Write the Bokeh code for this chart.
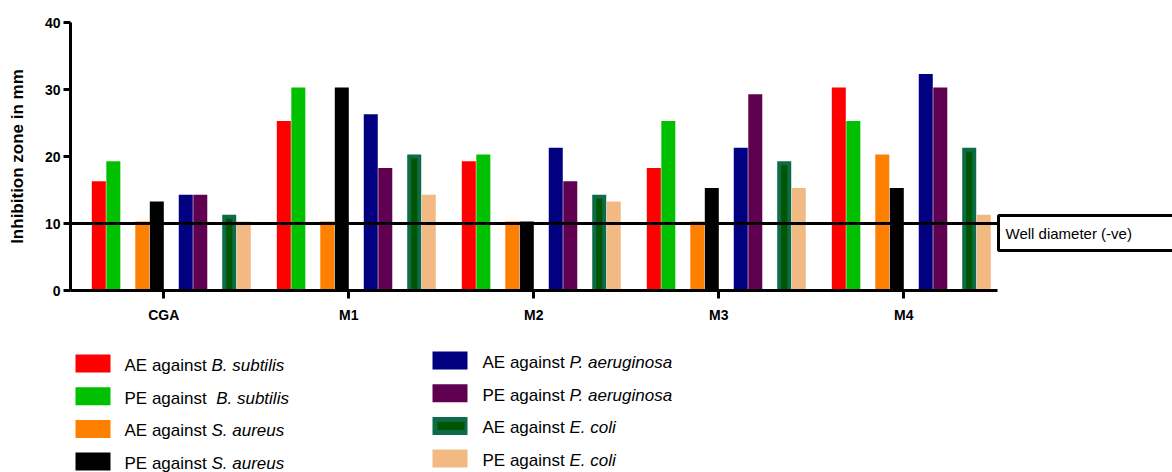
import math
from bokeh.plotting import figure
from bokeh.models import Range1d, FixedTicker, ColumnDataSource
from bokeh.embed import file_html
from bokeh.resources import INLINE
from bokeh.core.properties import value

FONT = "Liberation Sans"

# ---------------- data ----------------
groups = ["CGA", "M1", "M2", "M3", "M4"]

ae_b_subtilis = [16.3, 25.3, 19.3, 18.3, 30.3]
pe_b_subtilis = [19.3, 30.3, 20.3, 25.3, 25.3]
ae_s_aureus = [10.3, 10.3, 10.3, 10.3, 20.3]
pe_s_aureus = [13.3, 30.3, 10.3, 15.3, 15.3]
ae_p_aeruginosa = [14.3, 26.3, 21.3, 21.3, 32.3]
pe_p_aeruginosa = [14.3, 18.3, 16.3, 29.3, 30.3]
ae_e_coli = [11.3, 20.3, 14.3, 19.3, 21.3]
pe_e_coli = [10.3, 14.3, 13.3, 15.3, 11.3]

well_diameter = 10
well_label = "Well diameter (-ve)"
y_ticks = [0, 10, 20, 30, 40]
y_label = "Inhibition zone in mm"

series_values = [ae_b_subtilis, pe_b_subtilis, ae_s_aureus, pe_s_aureus,
                 ae_p_aeruginosa, pe_p_aeruginosa, ae_e_coli, pe_e_coli]
series_prefix = ["AE against ", "PE against  ", "AE against ", "PE against ",
                 "AE against ", "PE against ", "AE against ", "PE against "]
series_species = ["B. subtilis", "B. subtilis", "S. aureus", "S. aureus",
                  "P. aeruginosa", "P. aeruginosa", "E. coli", "E. coli"]
series_colors = ["#ff0000", "#00c000", "#ff8000", "#000000",
                 "#000080", "#600050", "#0d6b47", "#f2b982"]
ECOLI_INNER = "#005500"

# ---------------- geometry (pixels) ----------------
W, H = 1172, 472
AX_L, AX_R = 70, 997            # x-axis pixel extent
AX_TOP, AX_BOTTOM = 22, 290     # pixel rows of 40 and 0
XS = 185.0                      # px per group
YS = (AX_BOTTOM - AX_TOP) / 40.0
X_AXIS_START = -0.504
X_AXIS_END = X_AXIS_START + (AX_R - AX_L) / XS


def px_x(px):
    return X_AXIS_START + (px - AX_L) / XS


def px_y(py):
    return 40 - (py - AX_TOP) / YS


p = figure(width=W, height=H,
           x_range=Range1d(px_x(0), px_x(W)), y_range=Range1d(px_y(H), px_y(0)),
           output_backend="svg", toolbar_location=None,
           min_border=0)
p.outline_line_color = None
p.xgrid.visible = False
p.ygrid.visible = False
p.background_fill_color = "white"
p.border_fill_color = "white"

BW = 14 / XS
START = -0.351
BAR_PITCH = 0.0785
PAIR_PITCH = 0.235
INSET = 4 / YS

for k, vals in enumerate(series_values):
    off = START + (k // 2) * PAIR_PITCH + (k % 2) * BAR_PITCH
    xs = [i + off for i in range(len(groups))]
    src = ColumnDataSource(dict(x=xs, top=vals))
    p.vbar(x="x", top="top", bottom=0, width=BW, source=src,
           fill_color=series_colors[k], line_color=None)
    if k == 6:
        src2 = ColumnDataSource(dict(x=xs, top=[v - INSET for v in vals]))
        p.vbar(x="x", top="top", bottom=0, width=BW * 6 / 14, source=src2,
               fill_color=ECOLI_INNER, line_color=None)

# well diameter line + box
p.segment(x0=[X_AXIS_START], y0=[well_diameter], x1=[X_AXIS_END], y1=[well_diameter],
          line_color="black", line_width=3)
bx0, bx1 = 998, 1220
by0, by1 = 215, 250
p.rect(x=[px_x((bx0 + bx1) / 2)], y=[px_y((by0 + by1) / 2)],
       width=(bx1 - bx0) / XS, height=(by1 - by0) / YS,
       fill_color="white", line_color="black", line_width=3)
p.text(x=[px_x(1005)], y=[px_y(233)], text=[well_label], text_font=value(FONT),
       text_font_size="15px", text_baseline="middle", text_align="left",
       text_color="black")

# axes (drawn at fixed positions inside the full-canvas frame)
p.yaxis.ticker = FixedTicker(ticks=y_ticks)
p.yaxis.bounds = (0, 40)
p.yaxis.fixed_location = X_AXIS_START
p.xaxis.ticker = FixedTicker(ticks=list(range(len(groups))))
p.xaxis.major_label_overrides = {i: g for i, g in enumerate(groups)}
p.xaxis.fixed_location = 0
p.xaxis.bounds = (X_AXIS_START, X_AXIS_END)
for ax in (p.xaxis[0], p.yaxis[0]):
    ax.axis_line_width = 3
    ax.axis_line_color = "black"
    ax.major_tick_line_width = 3
    ax.major_tick_line_color = "black"
    ax.major_tick_in = 0
    ax.minor_tick_in = 0
    ax.minor_tick_out = 0
    ax.major_label_text_font = FONT
    ax.major_label_text_font_style = "bold"
    ax.major_label_text_color = "black"
p.yaxis.major_tick_out = 7
p.yaxis.major_label_text_font_size = "14px"
p.yaxis.major_label_standoff = 3
p.xaxis.major_tick_out = 8
p.xaxis.major_label_text_font_size = "14px"
p.xaxis.major_label_standoff = 8

# y-axis title
p.text(x=[px_x(17)], y=[20], text=[y_label], angle=math.pi / 2,
       text_font=value(FONT), text_font_size="17px", text_font_style="bold",
       text_align="center", text_baseline="middle", text_color="black")

# ---------------- legend (drawn in pixel layout) ----------------
ARIAL = {" ": 278, "A": 667, "E": 667, "P": 667, "a": 556, "g": 556,
         "i": 222, "n": 556, "s": 500, "t": 278}
LFS = 17
col_swatch_x = [75, 432]
col_text_x = [124, 482]
col_row0 = [363, 360]
ROW_PITCH = 32.7
SW, SH = 35, 18

sx, sy, sc = [], [], []
tx, ty, tt = [], [], []
ix, iy, it = [], [], []
for k in range(8):
    c, r = k // 4, k % 4
    yc = col_row0[c] + r * ROW_PITCH
    sx.append(px_x(col_swatch_x[c] + SW / 2))
    sy.append(px_y(yc))
    sc.append(series_colors[k])
    tx.append(px_x(col_text_x[c]))
    ty.append(px_y(yc + 2))
    tt.append(series_prefix[k])
    w = sum(ARIAL.get(ch, 556) for ch in series_prefix[k]) * LFS / 1000.0
    ix.append(px_x(col_text_x[c] + w))
    iy.append(px_y(yc + 2))
    it.append(series_species[k])

p.rect(x=sx, y=sy, width=SW / XS, height=SH / YS, fill_color=sc, line_color=None)
# inner stripe of the E. coli (AE) swatch
k = 6
p.rect(x=[px_x(col_swatch_x[1] + 5 + (SW - 8) / 2)], y=[sy[k]],
       width=(SW - 8) / XS, height=(SH - 10) / YS, fill_color=ECOLI_INNER, line_color=None)
p.text(x=tx, y=ty, text=tt, text_font=value(FONT), text_font_size=f"{LFS}px",
       text_baseline="middle", text_align="left", text_color="black")
p.text(x=ix, y=iy, text=it, text_font=value(FONT), text_font_size=f"{LFS}px",
       text_font_style="italic", text_baseline="middle", text_align="left", text_color="black")

open("out.html", "w").write(file_html(p, INLINE))
